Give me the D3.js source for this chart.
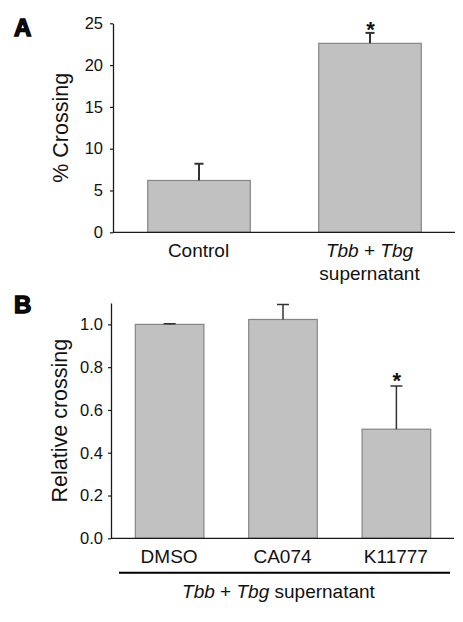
<!DOCTYPE html>
<html>
<head>
<meta charset="utf-8">
<script src="https://cdn.jsdelivr.net/npm/d3@7"></script>
<style>
  html, body { margin: 0; padding: 0; background: #ffffff; }
  svg { display: block; }
  text { font-family: "Liberation Sans", Arial, Helvetica, sans-serif; fill: #111; }
</style>
</head>
<body>
<svg id="chart" width="463" height="622"></svg>
<script>
// ---- Data ----
const aCategories = ["Control", "Tbb + Tbg supernatant"];
const aValues = [6.2, 22.6];
const aErrors = [2.0, 1.25];
const aSignificant = [false, true];
const aTicks = [0, 5, 10, 15, 20, 25];

const bCategories = ["DMSO", "CA074", "K11777"];
const bValues = [1.0, 1.023, 0.51];
const bErrors = [0.003, 0.07, 0.202];
const bSignificant = [false, false, true];
const bTicks = [0, 0.2, 0.4, 0.6, 0.8, 1.0];

const svg = d3.select("#chart");
const barFill = "#c1c1c1";
const barStroke = "#858585";
const inkColor = "#1a1a1a";

function drawPanel(cfg) {
  const g = svg.append("g");
  const x = d3.scaleBand().domain(cfg.categories)
    .range([cfg.x0, cfg.x1]).paddingInner(cfg.pi).paddingOuter(cfg.po);
  const y = d3.scaleLinear().domain(cfg.domain).range([cfg.y0, cfg.y1]);

  // bars
  g.selectAll("rect.bar").data(cfg.categories).enter().append("rect")
    .attr("x", d => x(d) + 0.5)
    .attr("y", (d, i) => y(cfg.values[i]))
    .attr("width", x.bandwidth())
    .attr("height", (d, i) => y(0) - y(cfg.values[i]))
    .attr("fill", barFill).attr("stroke", barStroke).attr("stroke-width", 1.2);

  // error bars
  const eg = g.selectAll("g.err").data(cfg.categories).enter().append("g");
  eg.append("line")
    .attr("x1", d => x(d) + x.bandwidth() / 2 + 0.5)
    .attr("x2", d => x(d) + x.bandwidth() / 2 + 0.5)
    .attr("y1", (d, i) => y(cfg.values[i]))
    .attr("y2", (d, i) => y(cfg.values[i] + cfg.errors[i]))
    .attr("stroke", "#333").attr("stroke-width", cfg.ew);
  eg.append("line")
    .attr("x1", d => x(d) + x.bandwidth() / 2 + 0.5 - cfg.cap / 2)
    .attr("x2", d => x(d) + x.bandwidth() / 2 + 0.5 + cfg.cap / 2)
    .attr("y1", (d, i) => y(cfg.values[i] + cfg.errors[i]))
    .attr("y2", (d, i) => y(cfg.values[i] + cfg.errors[i]))
    .attr("stroke", "#333").attr("stroke-width", cfg.ew);

  // significance stars
  g.selectAll("text.star").data(cfg.categories.filter((d, i) => cfg.sig[i])).enter()
    .append("text")
    .attr("x", d => x(d) + x.bandwidth() / 2 + 1)
    .attr("y", d => {
      const i = cfg.categories.indexOf(d);
      return y(cfg.values[i] + cfg.errors[i]) + cfg.starDy;
    })
    .attr("text-anchor", "middle")
    .attr("font-size", 22).attr("font-weight", "bold")
    .text("*");

  // y axis
  const yAxis = d3.axisLeft(y).tickValues(cfg.ticks).tickFormat(cfg.fmt)
    .tickSize(3).tickSizeOuter(0).tickPadding(cfg.tp);
  const ax = g.append("g").attr("transform", `translate(${cfg.x0},0)`).call(yAxis);
  ax.select(".domain").attr("stroke", inkColor).attr("stroke-width", 1.3);
  ax.selectAll(".tick line").attr("stroke", inkColor).attr("stroke-width", 1.2);
  ax.selectAll(".tick text").attr("font-size", 16.5)
    .attr("font-family", "'Liberation Sans', Arial, Helvetica, sans-serif").attr("fill", "#111");

  // x baseline
  g.append("line").attr("x1", cfg.x0).attr("x2", cfg.x1)
    .attr("y1", y(0)).attr("y2", y(0))
    .attr("stroke", inkColor).attr("stroke-width", 1.3);

  // y label
  g.append("text")
    .attr("transform", `translate(${cfg.labelX},${(y.range()[0] + y.range()[1]) / 2 + cfg.labelDy}) rotate(-90)`)
    .attr("text-anchor", "middle").attr("font-size", 21.5)
    .text(cfg.ylabel);

  // panel letter
  g.append("text").attr("x", 14).attr("y", cfg.letterY)
    .attr("font-size", 24).attr("font-weight", "bold").attr("stroke", "#000").attr("stroke-width", 1.4)
    .text(cfg.letter);

  return { x, y, g };
}

// ---- Panel A ----
const A = drawPanel({
  categories: aCategories, values: aValues, errors: aErrors, sig: aSignificant,
  x0: 113, x1: 455, pi: 0.4, po: 0.2,
  domain: [0, 25], y0: 232.3, y1: 23.3, ticks: aTicks, fmt: d3.format("d"), tp: 7,
  ew: 2, cap: 9, starDy: 4,
  ylabel: "% Crossing", labelX: 68, labelDy: 0,
  letter: "A", letterY: 36
});

// category labels A
A.g.append("text").attr("x", A.x(aCategories[0]) + A.x.bandwidth() / 2).attr("y", 256.7)
  .attr("text-anchor", "middle").attr("font-size", 19).text(aCategories[0]);
const aLab = A.g.append("text").attr("x", A.x(aCategories[1]) + A.x.bandwidth() / 2).attr("y", 256.7)
  .attr("text-anchor", "middle").attr("font-size", 19);
aLab.append("tspan").attr("font-style", "italic").text("Tbb");
aLab.append("tspan").text(" + ");
aLab.append("tspan").attr("font-style", "italic").text("Tbg");
A.g.append("text").attr("x", A.x(aCategories[1]) + A.x.bandwidth() / 2).attr("y", 279.5)
  .attr("text-anchor", "middle").attr("font-size", 19).text("supernatant");

// ---- Panel B ----
const B = drawPanel({
  categories: bCategories, values: bValues, errors: bErrors, sig: bSignificant,
  x0: 111, x1: 454, pi: 0.395, po: 0.21,
  domain: [0, 1.1], y0: 538.3, y1: 303, ticks: bTicks, fmt: d3.format(".1f"), tp: 5,
  ew: 1.5, cap: 12, starDy: 2,
  ylabel: "Relative crossing", labelX: 67, labelDy: 0,
  letter: "B", letterY: 313
});
B.g.selectAll("text.cat").data(bCategories).enter().append("text")
  .attr("x", d => B.x(d) + B.x.bandwidth() / 2)
  .attr("y", 562.7)
  .attr("text-anchor", "middle").attr("font-size", 19).text(d => d);
B.g.append("line").attr("x1", 119).attr("x2", 450).attr("y1", 572.7).attr("y2", 572.7)
  .attr("stroke", "#000").attr("stroke-width", 2);
const bLab = B.g.append("text").attr("x", B.x(bCategories[1]) + B.x.bandwidth() / 2 - 4).attr("y", 598)
  .attr("text-anchor", "middle").attr("font-size", 19);
bLab.append("tspan").attr("font-style", "italic").text("Tbb");
bLab.append("tspan").text(" + ");
bLab.append("tspan").attr("font-style", "italic").text("Tbg");
bLab.append("tspan").text(" supernatant");
</script>
</body>
</html>
